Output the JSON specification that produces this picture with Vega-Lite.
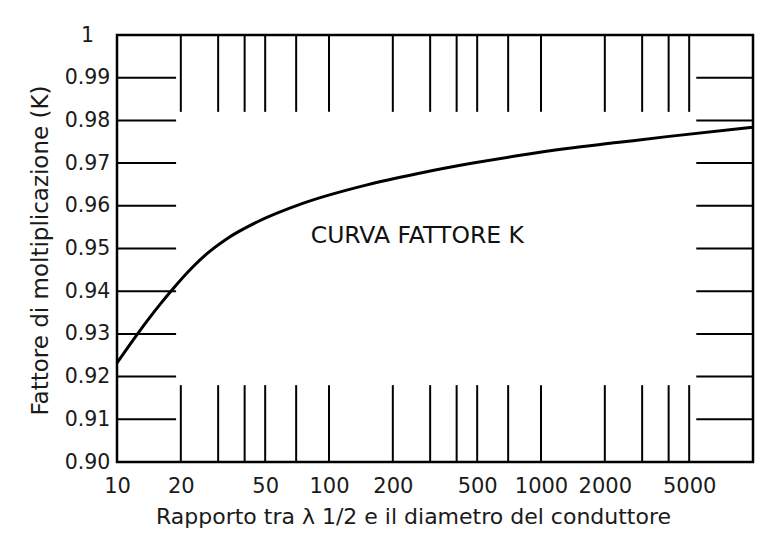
{
  "$schema": "https://vega.github.io/schema/vega-lite/v6.json",
  "width": 636,
  "height": 427,
  "autosize": {"type": "none"},
  "padding": {"left": 117, "top": 35, "right": 7, "bottom": 82},
  "background": "white",
  "config": {
    "font": "DejaVu Sans",
    "view": {"stroke": "black", "strokeWidth": 2.5},
    "axis": {"grid": false, "domain": false, "ticks": false, "tickSize": 0, "labelColor": "#1a1a1a", "titleColor": "#1a1a1a", "labelFont": "DejaVu Sans", "titleFont": "DejaVu Sans", "titleFontWeight": "normal"}
  },
  "datasets": {
    "curve": [
      {"x": 10, "y": 0.9232},
      {"x": 11.77, "y": 0.9282},
      {"x": 13.85, "y": 0.9330},
      {"x": 16.31, "y": 0.9375},
      {"x": 18.17, "y": 0.9403},
      {"x": 22.58, "y": 0.9455},
      {"x": 26.58, "y": 0.9488},
      {"x": 33.03, "y": 0.9523},
      {"x": 45.76, "y": 0.9562},
      {"x": 74.58, "y": 0.9605},
      {"x": 151.1, "y": 0.9649},
      {"x": 260.1, "y": 0.9675},
      {"x": 477.8, "y": 0.9700},
      {"x": 770.3, "y": 0.9717},
      {"x": 1326, "y": 0.9734},
      {"x": 2283, "y": 0.9748},
      {"x": 3929, "y": 0.9762},
      {"x": 10000, "y": 0.9784}
    ],
    "hgrid": [
      {"x": 10, "x2": 19, "y": 0.91}, {"x": 10, "x2": 19, "y": 0.92}, {"x": 10, "x2": 19, "y": 0.93},
      {"x": 10, "x2": 19, "y": 0.94}, {"x": 10, "x2": 19, "y": 0.95}, {"x": 10, "x2": 19, "y": 0.96},
      {"x": 10, "x2": 19, "y": 0.97}, {"x": 10, "x2": 19, "y": 0.98}, {"x": 10, "x2": 19, "y": 0.99},
      {"x": 5400, "x2": 10000, "y": 0.91}, {"x": 5400, "x2": 10000, "y": 0.92}, {"x": 5400, "x2": 10000, "y": 0.93},
      {"x": 5400, "x2": 10000, "y": 0.94}, {"x": 5400, "x2": 10000, "y": 0.95}, {"x": 5400, "x2": 10000, "y": 0.96},
      {"x": 5400, "x2": 10000, "y": 0.97}, {"x": 5400, "x2": 10000, "y": 0.98}, {"x": 5400, "x2": 10000, "y": 0.99}
    ],
    "vgrid": [
      {"x": 20, "y": 0.982, "y2": 1.0}, {"x": 30, "y": 0.982, "y2": 1.0}, {"x": 40, "y": 0.982, "y2": 1.0},
      {"x": 50, "y": 0.982, "y2": 1.0}, {"x": 70, "y": 0.982, "y2": 1.0}, {"x": 100, "y": 0.982, "y2": 1.0},
      {"x": 200, "y": 0.982, "y2": 1.0}, {"x": 300, "y": 0.982, "y2": 1.0}, {"x": 400, "y": 0.982, "y2": 1.0},
      {"x": 500, "y": 0.982, "y2": 1.0}, {"x": 700, "y": 0.982, "y2": 1.0}, {"x": 1000, "y": 0.982, "y2": 1.0},
      {"x": 2000, "y": 0.982, "y2": 1.0}, {"x": 3000, "y": 0.982, "y2": 1.0}, {"x": 4000, "y": 0.982, "y2": 1.0},
      {"x": 5000, "y": 0.982, "y2": 1.0},
      {"x": 20, "y": 0.90, "y2": 0.918}, {"x": 30, "y": 0.90, "y2": 0.918}, {"x": 40, "y": 0.90, "y2": 0.918},
      {"x": 50, "y": 0.90, "y2": 0.918}, {"x": 70, "y": 0.90, "y2": 0.918}, {"x": 100, "y": 0.90, "y2": 0.918},
      {"x": 200, "y": 0.90, "y2": 0.918}, {"x": 300, "y": 0.90, "y2": 0.918}, {"x": 400, "y": 0.90, "y2": 0.918},
      {"x": 500, "y": 0.90, "y2": 0.918}, {"x": 700, "y": 0.90, "y2": 0.918}, {"x": 1000, "y": 0.90, "y2": 0.918},
      {"x": 2000, "y": 0.90, "y2": 0.918}, {"x": 3000, "y": 0.90, "y2": 0.918}, {"x": 4000, "y": 0.90, "y2": 0.918},
      {"x": 5000, "y": 0.90, "y2": 0.918}
    ],
    "note": [
      {"x": 261, "y": 0.953, "label": "CURVA FATTORE K"}
    ]
  },
  "layer": [
    {
      "data": {"name": "curve"},
      "mark": {"type": "line", "color": "black", "strokeWidth": 3, "interpolate": "monotone", "clip": true},
      "encoding": {
        "x": {
          "field": "x", "type": "quantitative",
          "scale": {"type": "log", "domain": [10, 10000], "nice": false},
          "axis": {
            "values": [10, 20, 50, 100, 200, 500, 1000, 2000, 5000],
            "labelExpr": "format(datum.value, 'd')",
            "labelFontSize": 21,
            "labelPadding": 30,
            "labelBaseline": "alphabetic",
            "labelFlush": false,
            "labelOverlap": false,
            "title": "Rapporto tra λ 1/2 e il diametro del conduttore",
            "titleFontSize": 22,
            "titleBaseline": "alphabetic",
            "titleAnchor": null,
            "titleAlign": "center",
            "titleX": 296,
            "titleY": 61
          }
        },
        "y": {
          "field": "y", "type": "quantitative",
          "scale": {"domain": [0.9, 1.0], "nice": false, "zero": false},
          "axis": {
            "values": [0.9, 0.91, 0.92, 0.93, 0.94, 0.95, 0.96, 0.97, 0.98, 0.99, 1.0],
            "labelExpr": "datum.value >= 0.9999 ? '1' : format(datum.value, '.2f')",
            "labelFontSize": 20.5,
            "labelAlign": "center",
            "labelBaseline": "middle",
            "labelPadding": 30,
            "labelFlush": false,
            "labelOverlap": false,
            "title": "Fattore di moltiplicazione (K)",
            "titleFontSize": 23,
            "titleAngle": -90,
            "titleBaseline": "alphabetic",
            "titleAlign": "center",
            "titleAnchor": null,
            "titleX": -70,
            "titleY": 215
          }
        }
      }
    },
    {
      "data": {"name": "hgrid"},
      "mark": {"type": "rule", "color": "black", "strokeWidth": 2},
      "encoding": {
        "x": {"field": "x", "type": "quantitative"},
        "x2": {"field": "x2"},
        "y": {"field": "y", "type": "quantitative"}
      }
    },
    {
      "data": {"name": "vgrid"},
      "mark": {"type": "rule", "color": "black", "strokeWidth": 2},
      "encoding": {
        "x": {"field": "x", "type": "quantitative"},
        "y": {"field": "y", "type": "quantitative"},
        "y2": {"field": "y2"}
      }
    },
    {
      "data": {"name": "note"},
      "mark": {"type": "text", "font": "DejaVu Sans", "fontSize": 23.5, "color": "#111", "align": "center", "baseline": "middle"},
      "encoding": {
        "x": {"field": "x", "type": "quantitative"},
        "y": {"field": "y", "type": "quantitative"},
        "text": {"field": "label"}
      }
    }
  ]
}
